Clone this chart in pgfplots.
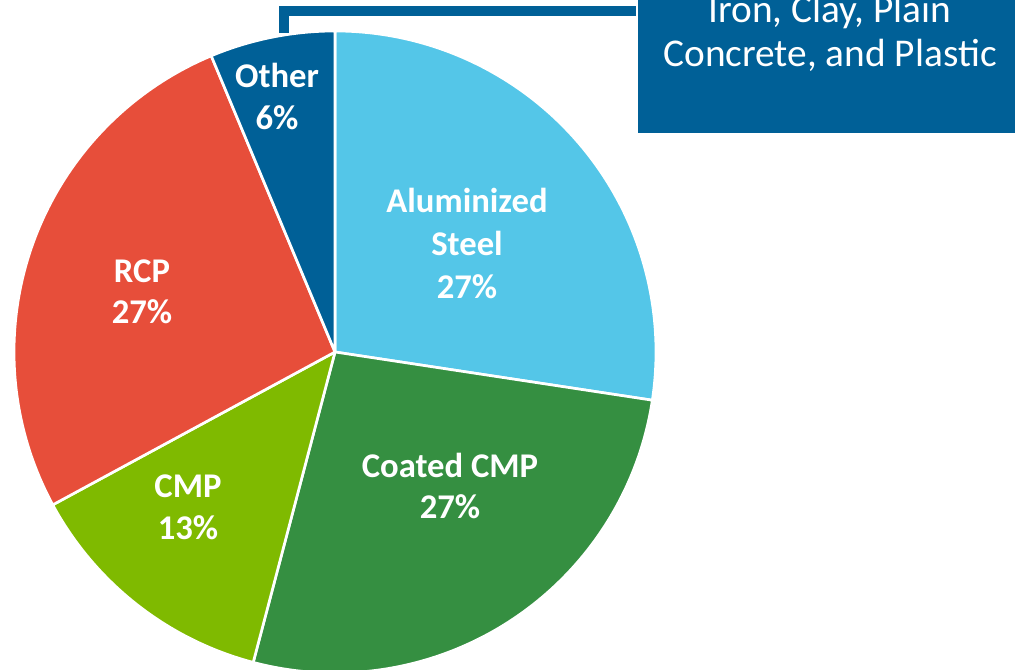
\documentclass[border=0pt]{standalone}
\usepackage{pgfplots}
\usepackage{pgfplotstable}
\pgfplotsset{compat=1.18}
\usepackage{fontspec}
\setmainfont{Carlito}
\definecolor{cAlu}{RGB}{84,198,232}
\definecolor{cCoat}{RGB}{53,143,65}
\definecolor{cCMP}{RGB}{127,186,0}
\definecolor{cRCP}{RGB}{231,78,58}
\definecolor{cOther}{RGB}{0,96,151}
\pgfplotstableread{
label value
Aluminized 27.4
Coated 26.7
CMP 13.0
RCP 26.6
Other 6.3
}\piedata
\begin{document}
\begin{tikzpicture}
\pgfplotstablegetelem{0}{value}\of\piedata \pgfmathsetmacro\vA{\pgfplotsretval}
\pgfplotstablegetelem{1}{value}\of\piedata \pgfmathsetmacro\vB{\pgfplotsretval}
\pgfplotstablegetelem{2}{value}\of\piedata \pgfmathsetmacro\vC{\pgfplotsretval}
\pgfplotstablegetelem{3}{value}\of\piedata \pgfmathsetmacro\vD{\pgfplotsretval}
\pgfplotstablegetelem{4}{value}\of\piedata \pgfmathsetmacro\vE{\pgfplotsretval}
\pgfmathsetmacro\aA{90}
\pgfmathsetmacro\aB{\aA-3.6*\vA}
\pgfmathsetmacro\aC{\aB-3.6*\vB}
\pgfmathsetmacro\aD{\aC-3.6*\vC}
\pgfmathsetmacro\aE{\aD-3.6*\vD}
\pgfmathsetmacro\aF{\aE-3.6*\vE}
\def\R{240.75pt}
\begin{scope}
\clip (0,0) rectangle (761.25pt,502.5pt);
\begin{axis}[at={(0,0)}, anchor=south west, scale only axis,
  width=761.25pt, height=502.5pt, xmin=0, xmax=1015, ymin=0, ymax=670,
  hide axis, clip=false]
\addplot[draw=none] coordinates {(0,0) (1015,670)};
\filldraw[fill=cAlu, draw=white, line width=2pt, line join=round] (axis cs:335,318) -- ++(\aA:\R) arc[start angle=\aA, end angle=\aB, radius=\R] -- cycle;
\filldraw[fill=cCoat, draw=white, line width=2pt, line join=round] (axis cs:335,318) -- ++(\aB:\R) arc[start angle=\aB, end angle=\aC, radius=\R] -- cycle;
\filldraw[fill=cCMP, draw=white, line width=2pt, line join=round] (axis cs:335,318) -- ++(\aC:\R) arc[start angle=\aC, end angle=\aD, radius=\R] -- cycle;
\filldraw[fill=cRCP, draw=white, line width=2pt, line join=round] (axis cs:335,318) -- ++(\aD:\R) arc[start angle=\aD, end angle=\aE, radius=\R] -- cycle;
\filldraw[fill=cOther, draw=white, line width=2pt, line join=round] (axis cs:335,318) -- ++(\aE:\R) arc[start angle=\aE, end angle=\aF, radius=\R] -- cycle;
% callout
\draw[cOther, line width=7pt] (axis cs:284,637) -- (axis cs:284,659) -- (axis cs:636,659);
\fill[cOther] (axis cs:638,537) rectangle (axis cs:1040,700);
\tikzset{bx/.style={text=white, anchor=base, inner sep=0pt, font=\fontsize{29.5}{34}\selectfont},
         lb/.style={text=white, anchor=base, inner sep=0pt, font=\bfseries\fontsize{26}{32}\selectfont}}
\node[bx] at (axis cs:830,647) {Iron, Clay, Plain};
\node[bx] at (axis cs:830,603) {Concrete, and Plastic};
\node[lb] at (axis cs:467,457) {Aluminized};
\node[lb] at (axis cs:467,414) {Steel};
\node[lb] at (axis cs:467,371) {27\%};
\node[lb] at (axis cs:142,387) {RCP};
\node[lb] at (axis cs:142,346) {27\%};
\node[lb] at (axis cs:450,192) {Coated CMP};
\node[lb] at (axis cs:450,151) {27\%};
\node[lb] at (axis cs:188,172) {CMP};
\node[lb] at (axis cs:188,130) {13\%};
\node[lb] at (axis cs:277,582) {Other};
\node[lb] at (axis cs:277,540) {6\%};
\end{axis}
\end{scope}
\pgfresetboundingbox
\useasboundingbox (0,0) rectangle (761.25pt,502.5pt);
\end{tikzpicture}
\end{document}
